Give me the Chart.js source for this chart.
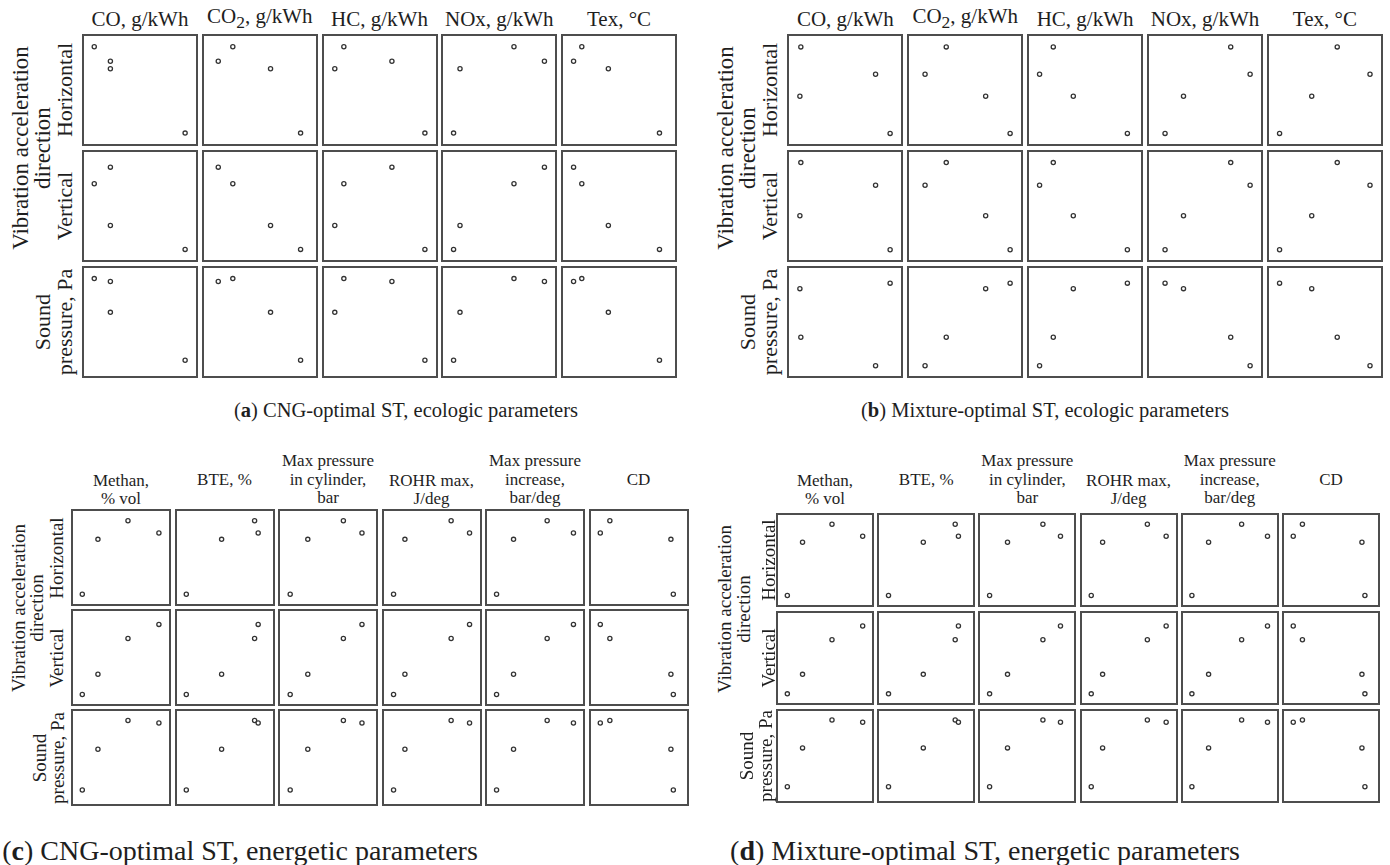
<!DOCTYPE html>
<html lang="en">
<head>
<meta charset="UTF-8">
<title>Scatter matrices - optimal ST</title>
<script src="https://cdn.jsdelivr.net/npm/chart.js"></script>
<style>
    body {
        margin: 0;
        width: 1390px;
        height: 865px;
        position: relative;
        overflow: hidden;
        background: #fff;
        font-family: 'Liberation Serif', serif;
        color: #1e1e1e;
    }
    canvas { position: absolute; }
    .txt {
        position: absolute;
        white-space: pre;
        text-align: center;
        transform: translate(-50%, -50%);
    }
    .rot { transform: translate(-50%, -50%) rotate(-90deg); }
</style>
</head>
<body>
<script>
// 4 observations per small plot, values read as % of each plot's axis range (no ticks in the source)

// rows shared by the CNG-optimal panels
const cngHorizontal = [92.6, 78.3, 71.0, 7.5];
const cngVertical = [72.0, 88.3, 30.7, 7.2];
const cngSound = [92.8, 90.0, 59.5, 12.3];

// rows of panel (b)
const mixHorizontal = [92.5, 65.6, 43.9, 7.2];
const mixVertical = [92.8, 70.4, 40.4, 6.9];
const mixSound = [35.0, 6.9, 82.9, 88.3];

// rows of panel (d)
const mixEnHorizontal = [92.8, 78.4, 71.3, 7.4];
const mixEnVertical = [71.9, 88.3, 30.4, 7.0];
const mixEnSound = [93.2, 90.5, 59.7, 13.1];

// (a) ecologic columns
const ecoLabels = ['CO, g/kWh', 'CO<sub>2</sub>, g/kWh', 'HC, g/kWh', 'NOx, g/kWh', 'Tex, °C'];
const cngCO = [6.6, 21.9, 21.9, 92.8];
const cngCO2 = [24.2, 10.4, 60.0, 88.5];
const cngHC = [15.7, 61.3, 7.1, 92.6];
const cngNOx = [64.2, 93.1, 13.0, 6.9];
const cngTex = [14.7, 6.9, 39.9, 88.4];

// (b) ecologic columns
const mixCO = [8.1, 79.0, 7.2, 92.8];
const mixCO2 = [32.2, 12.1, 69.6, 92.8];
const mixHC = [19.9, 6.9, 38.9, 90.2];
const mixNOx = [74.4, 92.8, 29.6, 12.1];
const mixTex = [61.6, 92.7, 37.4, 6.9];

// (c) energetic columns
const enLabels = ['Methan,\n% vol', 'BTE, %', 'Max pressure\nin cylinder,\nbar', 'ROHR max,\nJ/deg', 'Max pressure\nincrease,\nbar/deg', 'CD'];
const cngMethan = [57.8, 92.4, 24.2, 6.7];
const cngBTE = [83.1, 87.1, 46.2, 6.7];
const cngPmax = [67.2, 88.0, 27.4, 7.7];
const cngROHR = [71.4, 92.0, 19.7, 7.0];
const cngPinc = [63.6, 93.0, 26.0, 7.0];
const cngCD = [17.4, 6.7, 85.7, 88.4];

// (d) energetic columns
const mixMethan = [58.0, 93.1, 24.3, 6.9];
const mixBTE = [83.4, 87.1, 46.9, 7.1];
const mixPmax = [68.2, 88.3, 27.7, 7.2];
const mixROHR = [71.0, 92.5, 19.8, 6.8];
const mixPinc = [63.3, 92.9, 25.5, 6.4];
const mixCD = [17.3, 6.8, 85.4, 88.8];

const rowLabels = ['Horizontal', 'Vertical', 'Sound\npressure, Pa'];

// frame around each small plot
const framePlugin = {
    id: 'frame',
    beforeDatasetsDraw(chart) {
        const ctx = chart.ctx;
        ctx.save();
        ctx.strokeStyle = '#4d4d4d';
        ctx.lineWidth = 2;
        ctx.strokeRect(1, 1, chart.width - 2, chart.height - 2);
        ctx.restore();
    }
};

function addText(html, x, y, size, lineH, rotate) {
    const d = document.createElement('div');
    d.className = 'txt' + (rotate ? ' rot' : '');
    d.style.left = x + 'px';
    d.style.top = y + 'px';
    d.style.fontSize = size + 'px';
    d.style.lineHeight = lineH + 'px';
    d.innerHTML = html;
    document.body.appendChild(d);
}

function smallPlot(left, top, w, h, xs, ys) {
    const c = document.createElement('canvas');
    c.width = w;
    c.height = h;
    c.style.left = left + 'px';
    c.style.top = top + 'px';
    c.style.width = w + 'px';
    c.style.height = h + 'px';
    document.body.appendChild(c);
    new Chart(c, {
        type: 'scatter',
        data: {
            datasets: [{
                data: xs.map((x, i) => ({ x: x, y: ys[i] })),
                pointRadius: 2.1,
                pointBorderWidth: 1.3,
                pointBorderColor: '#333',
                pointBackgroundColor: '#fff'
            }]
        },
        options: {
            responsive: false,
            animation: false,
            events: [],
            layout: { padding: 0 },
            plugins: { legend: { display: false }, tooltip: { enabled: false } },
            scales: {
                x: { display: false, min: 0, max: 100 },
                y: { display: false, min: 0, max: 100 }
            }
        },
        plugins: [framePlugin]
    });
}

function buildPanel(p) {
    p.rows.forEach((ys, r) => {
        p.cols.forEach((xs, c) => {
            smallPlot(p.left + c * p.pitchX, p.top + r * p.pitchY, p.w, p.h, xs, ys);
        });
    });
    // column headers
    p.headers.forEach((t, c) => {
        const n = t.split('\n').length;
        const y = p.headerY + (n === 2 ? p.twoLineShift : 0);
        addText(t, p.left + c * p.pitchX + p.w / 2, y, p.headerSize, p.headerLine, false);
    });
    // row labels
    const rowMid = r => p.top + r * p.pitchY + p.h / 2;
    addText('Vibration acceleration\ndirection', p.left + p.vibX, (rowMid(0) + rowMid(1)) / 2, p.vibSize, p.rowLine, true);
    addText(rowLabels[0], p.left + p.dirX, rowMid(0), p.rowSize, p.rowLine, true);
    addText(rowLabels[1], p.left + p.dirX, rowMid(1), p.rowSize, p.rowLine, true);
    addText(rowLabels[2], p.left + p.soundX, rowMid(2), p.rowSize, p.rowLine, true);
}

buildPanel({
    left: 82, top: 34, pitchX: 119.75, pitchY: 116, w: 116, h: 112,
    cols: [cngCO, cngCO2, cngHC, cngNOx, cngTex],
    rows: [cngHorizontal, cngVertical, cngSound],
    headers: ecoLabels, headerY: 19, headerSize: 21, headerLine: 24, twoLineShift: 0,
    vibX: -50, dirX: -17, soundX: -28, vibSize: 23, rowSize: 22, rowLine: 22
});

buildPanel({
    left: 787.3, top: 34, pitchX: 119.9, pitchY: 116, w: 116, h: 112,
    cols: [mixCO, mixCO2, mixHC, mixNOx, mixTex],
    rows: [mixHorizontal, mixVertical, mixSound],
    headers: ecoLabels, headerY: 19, headerSize: 21, headerLine: 24, twoLineShift: 0,
    vibX: -50, dirX: -17, soundX: -28, vibSize: 23, rowSize: 22, rowLine: 22
});

buildPanel({
    left: 71, top: 509.3, pitchX: 103.5, pitchY: 100, w: 100, h: 97,
    cols: [cngMethan, cngBTE, cngPmax, cngROHR, cngPinc, cngCD],
    rows: [cngHorizontal, cngVertical, cngSound],
    headers: enLabels, headerY: 480, headerSize: 17, headerLine: 18.5, twoLineShift: 9.5,
    vibX: -43, dirX: -14, soundX: -22, vibSize: 19, rowSize: 19, rowLine: 18
});

buildPanel({
    left: 776, top: 512.7, pitchX: 101.2, pitchY: 97.9, w: 98, h: 94,
    cols: [mixMethan, mixBTE, mixPmax, mixROHR, mixPinc, mixCD],
    rows: [mixEnHorizontal, mixEnVertical, mixEnSound],
    headers: enLabels, headerY: 480, headerSize: 17, headerLine: 18.5, twoLineShift: 9.5,
    vibX: -42, dirX: -8, soundX: -20, vibSize: 19, rowSize: 19, rowLine: 19
});

// captions
addText('(<b>a</b>) CNG-optimal ST, ecologic parameters', 406, 410, 20.5, 24, false);
addText('(<b>b</b>) Mixture-optimal ST, ecologic parameters', 1045, 410, 20.5, 24, false);
addText('(<b>c</b>) CNG-optimal ST, energetic parameters', 240, 851, 28, 30, false);
addText('(<b>d</b>) Mixture-optimal ST, energetic parameters', 985, 851, 28, 30, false);
</script>
</body>
</html>
